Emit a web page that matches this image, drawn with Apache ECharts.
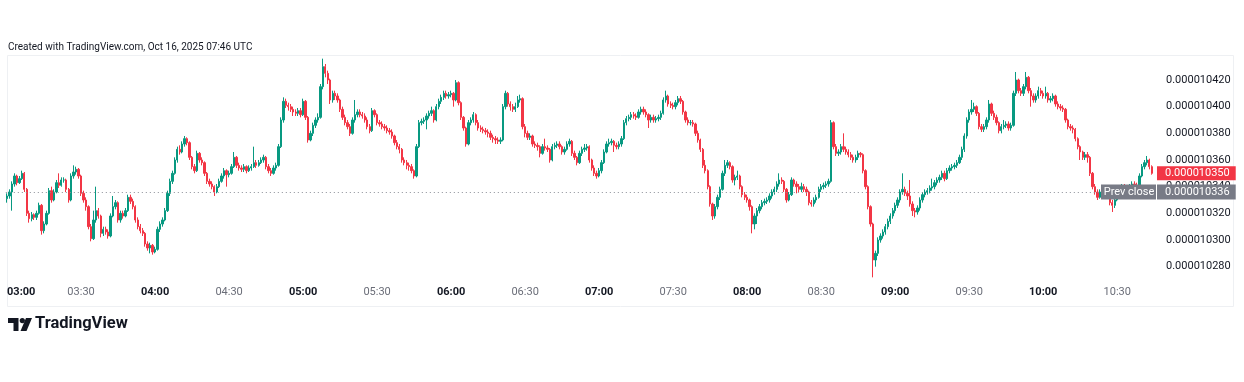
<!DOCTYPE html>
<html>
<head>
<meta charset="utf-8">
<script src="https://cdn.jsdelivr.net/npm/echarts@6/dist/echarts.min.js"></script>
<style>
html,body{margin:0;padding:0;background:#ffffff;}
#chart{width:1244px;height:382px;}
</style>
</head>
<body>
<div id="chart"></div>
<script>
// Prices are in units of 1e-9 (10420 -> 0.000010420). One candle per minute from 03:00.
const startMinute = 180; // 03:00
const opens = [
10331,10333,10336,10342,10348,10343,10346,10350,10338,10320,
10316,10319,10317,10320,10326,10307,10312,10320,10337,10330,
10336,10343,10341,10345,10345,10338,10330,10348,10351,10353,
10348,10335,10330,10325,10310,10301,10315,10322,10318,10305,
10308,10306,10303,10318,10325,10328,10315,10320,10318,10322,
10332,10329,10325,10315,10310,10307,10305,10297,10294,10296,
10291,10293,10308,10312,10315,10322,10335,10344,10350,10360,
10368,10366,10372,10376,10373,10362,10355,10352,10365,10360,
10358,10350,10344,10342,10340,10336,10340,10344,10348,10352,
10349,10350,10355,10362,10356,10354,10353,10355,10352,10354,
10355,10358,10356,10358,10360,10362,10355,10352,10350,10354,
10356,10370,10390,10404,10401,10400,10398,10396,10395,10397,
10394,10404,10392,10375,10380,10386,10390,10392,10415,10430,
10425,10420,10405,10410,10408,10405,10398,10392,10388,10385,
10380,10390,10394,10396,10394,10393,10390,10385,10382,10397,
10394,10388,10387,10385,10384,10382,10381,10378,10373,10370,
10368,10360,10358,10356,10355,10352,10348,10370,10388,10389,
10390,10393,10395,10397,10390,10400,10404,10407,10410,10408,
10409,10410,10405,10418,10403,10392,10384,10372,10388,10390,
10394,10388,10384,10383,10382,10381,10380,10377,10376,10375,
10374,10375,10400,10410,10402,10400,10398,10400,10405,10406,
10385,10380,10377,10378,10372,10371,10370,10365,10370,10369,
10368,10360,10370,10371,10372,10370,10366,10368,10372,10374,
10365,10362,10358,10365,10368,10369,10370,10360,10354,10350,
10348,10352,10358,10366,10372,10373,10374,10371,10370,10372,
10376,10388,10391,10392,10394,10393,10392,10396,10398,10396,
10394,10390,10392,10390,10391,10392,10395,10405,10408,10402,
10401,10400,10403,10406,10404,10396,10390,10388,10388,10387,
10380,10375,10368,10356,10352,10340,10327,10318,10325,10332,
10338,10350,10356,10358,10355,10345,10347,10348,10340,10334,
10332,10330,10325,10312,10318,10322,10325,10328,10329,10330,
10333,10336,10338,10342,10345,10344,10338,10330,10334,10345,
10342,10340,10338,10340,10338,10336,10328,10327,10330,10332,
10338,10340,10341,10342,10344,10388,10370,10365,10366,10370,
10368,10366,10364,10362,10360,10362,10365,10364,10352,10340,
10325,10312,10285,10290,10300,10303,10306,10310,10314,10318,
10322,10326,10330,10336,10338,10335,10333,10327,10322,10321,
10324,10330,10334,10336,10337,10339,10340,10343,10345,10347,
10350,10346,10352,10354,10355,10356,10358,10362,10368,10378,
10390,10396,10398,10400,10395,10385,10383,10385,10390,10402,
10395,10392,10388,10382,10385,10386,10387,10384,10386,10410,
10420,10412,10410,10415,10422,10412,10408,10405,10408,10412,
10410,10408,10410,10405,10406,10408,10402,10400,10399,10398,
10390,10385,10384,10383,10376,10370,10366,10362,10364,10362,
10350,10340,10336,10332,10336,10335,10335,10334,10328,10326,
10330,10335,10338,10340,10339,10338,10340,10342,10341,10340,
10348,10355,10358,10360,10355
];
const closes = [
10333,10336,10342,10348,10343,10346,10350,10338,10320,10316,
10319,10317,10320,10326,10307,10312,10320,10337,10330,10336,
10343,10341,10345,10345,10338,10330,10348,10351,10353,10348,
10335,10330,10325,10310,10301,10315,10322,10318,10305,10308,
10306,10303,10318,10325,10328,10315,10320,10318,10322,10332,
10329,10325,10315,10310,10307,10305,10297,10294,10296,10291,
10293,10308,10312,10315,10322,10335,10344,10350,10360,10368,
10366,10372,10376,10373,10362,10355,10352,10365,10360,10358,
10350,10344,10342,10340,10336,10340,10344,10348,10352,10349,
10350,10355,10362,10356,10354,10353,10355,10352,10354,10355,
10358,10356,10358,10360,10362,10355,10352,10350,10354,10356,
10370,10390,10404,10401,10400,10398,10396,10395,10397,10394,
10404,10392,10375,10380,10386,10390,10392,10415,10430,10425,
10420,10405,10410,10408,10405,10398,10392,10388,10385,10380,
10390,10394,10396,10394,10393,10390,10385,10382,10397,10394,
10388,10387,10385,10384,10382,10381,10378,10373,10370,10368,
10360,10358,10356,10355,10352,10348,10370,10388,10389,10390,
10393,10395,10397,10390,10400,10404,10407,10410,10408,10409,
10410,10405,10418,10403,10392,10384,10372,10388,10390,10394,
10388,10384,10383,10382,10381,10380,10377,10376,10375,10374,
10375,10400,10410,10402,10400,10398,10400,10405,10406,10385,
10380,10377,10378,10372,10371,10370,10365,10370,10369,10368,
10360,10370,10371,10372,10370,10366,10368,10372,10374,10365,
10362,10358,10365,10368,10369,10370,10360,10354,10350,10348,
10352,10358,10366,10372,10373,10374,10371,10370,10372,10376,
10388,10391,10392,10394,10393,10392,10396,10398,10396,10394,
10390,10392,10390,10391,10392,10395,10405,10408,10402,10401,
10400,10403,10406,10404,10396,10390,10388,10388,10387,10380,
10375,10368,10356,10352,10340,10327,10318,10325,10332,10338,
10350,10356,10358,10355,10345,10347,10348,10340,10334,10332,
10330,10325,10312,10318,10322,10325,10328,10329,10330,10333,
10336,10338,10342,10345,10344,10338,10330,10334,10345,10342,
10340,10338,10340,10338,10336,10328,10327,10330,10332,10338,
10340,10341,10342,10344,10388,10370,10365,10366,10370,10368,
10366,10364,10362,10360,10362,10365,10364,10352,10340,10325,
10312,10285,10290,10300,10303,10306,10310,10314,10318,10322,
10326,10330,10336,10338,10335,10333,10327,10322,10321,10324,
10330,10334,10336,10337,10339,10340,10343,10345,10347,10350,
10346,10352,10354,10355,10356,10358,10362,10368,10378,10390,
10396,10398,10400,10395,10385,10383,10385,10390,10402,10395,
10392,10388,10382,10385,10386,10387,10384,10386,10410,10420,
10412,10410,10415,10422,10412,10408,10405,10408,10412,10410,
10408,10410,10405,10406,10408,10402,10400,10399,10398,10390,
10385,10384,10383,10376,10370,10366,10362,10364,10362,10350,
10340,10336,10332,10336,10335,10335,10334,10328,10326,10330,
10335,10338,10340,10339,10338,10340,10342,10341,10340,10348,
10355,10358,10360,10355,10350
];
const highs = [
10335,10338,10344,10350,10349,10348,10352,10351,10339,10322,
10321,10320,10322,10328,10327,10314,10322,10339,10340,10338,
10345,10350,10347,10347,10346,10339,10350,10356,10355,10354,
10349,10337,10332,10326,10312,10322,10340,10324,10319,10310,
10310,10308,10320,10333,10330,10329,10322,10322,10324,10334,
10334,10331,10326,10317,10312,10309,10306,10299,10298,10297,
10295,10310,10314,10317,10324,10337,10346,10352,10362,10370,
10371,10374,10378,10377,10374,10363,10357,10367,10366,10362,
10359,10351,10346,10344,10341,10342,10346,10350,10354,10353,
10352,10357,10366,10363,10358,10356,10357,10356,10356,10357,
10370,10360,10360,10362,10364,10363,10357,10354,10356,10358,
10372,10392,10407,10406,10403,10402,10400,10398,10399,10399,
10406,10405,10393,10382,10388,10392,10395,10417,10436,10432,
10427,10421,10412,10412,10410,10406,10400,10394,10390,10387,
10392,10405,10398,10398,10396,10395,10392,10387,10399,10398,
10395,10390,10389,10387,10386,10384,10383,10379,10375,10372,
10369,10362,10360,10358,10357,10353,10372,10390,10391,10392,
10395,10397,10400,10398,10402,10406,10409,10412,10412,10411,
10412,10411,10420,10419,10404,10393,10385,10390,10392,10396,
10395,10390,10386,10385,10384,10383,10382,10379,10378,10377,
10377,10402,10412,10411,10404,10402,10403,10408,10409,10407,
10387,10382,10380,10379,10374,10373,10371,10372,10376,10371,
10369,10372,10373,10374,10374,10371,10370,10374,10376,10375,
10367,10363,10367,10370,10372,10372,10371,10361,10356,10352,
10354,10360,10368,10374,10376,10376,10375,10373,10374,10378,
10390,10393,10394,10396,10396,10395,10398,10400,10400,10398,
10395,10394,10394,10393,10394,10397,10407,10412,10409,10404,
10403,10405,10408,10408,10405,10397,10392,10390,10390,10388,
10382,10376,10369,10360,10353,10341,10328,10327,10334,10340,
10352,10360,10360,10359,10356,10349,10352,10349,10341,10336,
10334,10331,10326,10320,10324,10327,10330,10331,10332,10335,
10338,10340,10344,10350,10347,10345,10339,10336,10347,10346,
10344,10342,10343,10342,10340,10337,10330,10332,10334,10340,
10342,10343,10344,10346,10390,10389,10372,10368,10372,10380,
10370,10368,10366,10364,10364,10367,10366,10365,10353,10341,
10326,10313,10292,10302,10305,10308,10312,10316,10320,10324,
10328,10332,10338,10350,10340,10337,10345,10329,10324,10326,
10332,10336,10338,10339,10341,10346,10345,10347,10349,10352,
10352,10354,10356,10357,10358,10360,10364,10370,10380,10392,
10398,10405,10403,10401,10396,10387,10387,10392,10405,10403,
10397,10394,10389,10387,10390,10389,10389,10388,10412,10426,
10421,10414,10417,10426,10423,10414,10410,10410,10415,10414,
10412,10415,10411,10408,10410,10409,10404,10402,10401,10399,
10391,10387,10386,10384,10377,10371,10367,10366,10366,10363,
10351,10342,10338,10338,10338,10337,10337,10336,10330,10332,
10337,10340,10342,10342,10341,10342,10344,10344,10343,10350,
10357,10360,10363,10361,10356
];
const lows = [
10328,10331,10322,10340,10341,10342,10345,10336,10318,10313,
10314,10315,10315,10319,10304,10305,10311,10319,10328,10329,
10335,10339,10340,10343,10336,10328,10329,10346,10349,10346,
10333,10328,10322,10308,10299,10300,10313,10316,10302,10303,
10304,10301,10302,10317,10323,10313,10313,10316,10317,10321,
10327,10323,10313,10308,10305,10303,10295,10292,10290,10289,
10290,10292,10306,10310,10314,10321,10333,10342,10349,10358,
10364,10365,10370,10371,10360,10353,10350,10351,10358,10356,
10348,10342,10340,10338,10333,10335,10339,10343,10346,10340,
10347,10349,10354,10354,10352,10351,10351,10350,10351,10352,
10354,10354,10355,10357,10358,10353,10350,10348,10349,10352,
10355,10369,10388,10399,10397,10396,10393,10393,10393,10392,
10393,10390,10373,10374,10378,10384,10388,10391,10413,10422,
10417,10402,10403,10405,10403,10396,10390,10386,10383,10378,
10379,10388,10392,10392,10391,10388,10383,10380,10381,10392,
10386,10385,10383,10382,10380,10379,10376,10371,10368,10365,
10358,10356,10353,10352,10350,10346,10347,10369,10386,10387,
10383,10391,10393,10388,10389,10398,10402,10405,10406,10406,
10407,10400,10404,10401,10390,10382,10370,10371,10386,10388,
10386,10382,10381,10380,10379,10377,10375,10373,10372,10372,
10372,10374,10398,10400,10397,10396,10396,10399,10403,10383,
10377,10375,10375,10370,10369,10367,10362,10364,10367,10366,
10358,10359,10368,10369,10368,10364,10364,10367,10370,10363,
10360,10356,10357,10363,10366,10367,10358,10352,10348,10346,
10347,10350,10357,10365,10370,10371,10366,10368,10368,10370,
10375,10386,10389,10390,10391,10390,10391,10394,10394,10392,
10384,10388,10388,10388,10389,10390,10394,10403,10400,10399,
10398,10398,10401,10402,10394,10388,10386,10386,10385,10378,
10373,10366,10354,10350,10338,10325,10315,10316,10323,10330,
10337,10348,10354,10353,10343,10341,10345,10338,10332,10330,
10328,10322,10305,10308,10312,10320,10323,10326,10327,10328,
10331,10334,10336,10340,10342,10336,10328,10329,10333,10340,
10335,10336,10336,10336,10333,10326,10325,10325,10328,10331,
10336,10338,10339,10340,10343,10368,10363,10363,10364,10366,
10364,10362,10360,10358,10358,10360,10362,10350,10338,10323,
10310,10272,10280,10288,10298,10301,10304,10308,10312,10316,
10320,10324,10328,10334,10333,10330,10325,10318,10317,10319,
10322,10328,10332,10334,10335,10337,10338,10341,10343,10345,
10344,10345,10350,10352,10353,10354,10357,10360,10366,10376,
10388,10394,10396,10393,10383,10381,10381,10383,10388,10393,
10390,10386,10380,10380,10383,10384,10382,10382,10385,10408,
10410,10408,10408,10413,10410,10400,10403,10403,10406,10408,
10406,10406,10403,10403,10404,10400,10398,10397,10396,10388,
10383,10382,10380,10374,10368,10360,10360,10360,10358,10348,
10338,10334,10330,10331,10333,10333,10332,10326,10321,10324,
10329,10333,10336,10337,10336,10336,10338,10339,10338,10339,
10347,10353,10356,10353,10349
];
const prevClose = 10336;
const lastPrice = 10350;
const yTicks = { min: 10260, max: 10440, step: 20 };
const titleText = 'Created with TradingView.com, Oct 16, 2025 07:46 UTC';

function pad(n){ return (n < 10 ? '0' : '') + n; }
const times = [];
for (let i = 0; i < closes.length; i++) {
  const t = startMinute + i;
  times.push(pad(Math.floor(t / 60)) + ':' + pad(t % 60));
}
const ohlc = closes.map((c, i) => [opens[i], c, lows[i], highs[i]]);
const fmt = v => (v * 1e-9).toFixed(9);

const FONT = 'Roboto, "Liberation Sans", sans-serif';
const chart = echarts.init(document.getElementById('chart'), null, { renderer: 'canvas' });

chart.setOption({
  animation: false,
  backgroundColor: '#ffffff',
  textStyle: { fontFamily: FONT },
  grid: { left: 5.8, right: 91, top: 53.33, bottom: 88.67, containLabel: false },
  xAxis: {
    type: 'category',
    data: times,
    boundaryGap: true,
    offset: -9,
    axisLine: { show: false },
    axisTick: { show: false },
    splitLine: { show: false },
    axisLabel: {
      margin: 2,
      alignMinLabel: 'left',
      interval: (idx, val) => val.endsWith(':00') || val.endsWith(':30'),
      formatter: v => v.endsWith(':00') ? '{b|' + v + '}' : '{n|' + v + '}',
      rich: {
        b: { fontFamily: FONT, fontSize: 11, fontWeight: 'bold', color: '#131722' },
        n: { fontFamily: FONT, fontSize: 11, color: '#6a6d78' }
      }
    }
  },
  yAxis: {
    type: 'value',
    position: 'right',
    min: yTicks.min,
    max: yTicks.max,
    interval: yTicks.step,
    scale: true,
    axisLine: { show: false },
    axisTick: { show: false },
    splitLine: { show: false },
    axisLabel: {
      margin: 13,
      showMinLabel: false,
      showMaxLabel: false,
      fontFamily: FONT,
      fontSize: 11,
      color: '#131722',
      formatter: fmt
    }
  },
  series: [{
    type: 'candlestick',
    data: ohlc,
    barWidth: '75%',
    itemStyle: {
      color: '#089981', color0: '#F23645',
      borderColor: '#089981', borderColor0: '#F23645',
      borderWidth: 1
    },
    markLine: {
      silent: true,
      symbol: 'none',
      animation: false,
      data: [
        {
          yAxis: prevClose,
          lineStyle: { color: '#8a8d96', type: [1, 3], width: 1 },
          label: {
            show: true, position: 'end', distance: 4,
            offset: [-56, 0],
            formatter: () => '{a|Prev close}{g|}{b|' + fmt(prevClose) + '}',
            rich: {
              a: { backgroundColor: '#787b86', color: '#ffffff', fontFamily: FONT, fontSize: 11,
                   width: 48, align: 'center', padding: [2, 3, 2, 4], lineHeight: 10 },
              g: { width: 1 },
              b: { backgroundColor: '#787b86', color: '#ffffff', fontFamily: FONT, fontSize: 11,
                   padding: [2, 6, 2, 8], lineHeight: 10 }
            }
          }
        },
        {
          yAxis: lastPrice,
          lineStyle: { color: 'rgba(255,255,255,0)', width: 1, type: 'solid' },
          label: {
            show: true, position: 'end', distance: 4,
            formatter: () => fmt(lastPrice),
            backgroundColor: '#F23645', color: '#ffffff',
            fontFamily: FONT, fontSize: 11, lineHeight: 10,
            padding: [2, 6, 2, 8]
          }
        }
      ]
    }
  }],
  graphic: [
    { type: 'text', left: 8, top: 42, silent: true,
      style: { text: titleText, fill: '#131722', font: '10px ' + FONT } },
    { type: 'rect', silent: true, z: -1,
      shape: { x: 7.5, y: 55.5, width: 1226, height: 251 },
      style: { fill: 'none', stroke: '#eef0f3', lineWidth: 1 } },
    { type: 'polygon', silent: true,
      shape: { points: [[8,318],[18.5,318],[18.5,331],[13.5,331],[13.5,323],[8,323]] },
      style: { fill: '#131722' } },
    { type: 'circle', silent: true,
      shape: { cx: 22.3, cy: 320.6, r: 2.6 },
      style: { fill: '#131722' } },
    { type: 'polygon', silent: true,
      shape: { points: [[26,318],[32,318],[26.5,331],[20.5,331]] },
      style: { fill: '#131722' } },
    { type: 'text', left: 35, top: 315, silent: true,
      style: { text: 'TradingView', fill: '#131722', font: 'bold 16.5px ' + FONT } }
  ]
});
</script>
</body>
</html>
